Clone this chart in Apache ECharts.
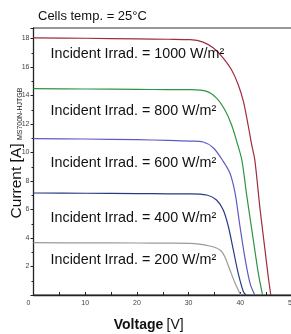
<!DOCTYPE html>
<html lang="en">
<head>
    <meta charset="UTF-8">
    <title>I-V curves</title>
    <script src="https://cdn.jsdelivr.net/npm/echarts@6/dist/echarts.min.js"></script>
    <style>
        html, body { margin: 0; padding: 0; background: #fff; }
    </style>
</head>
<body>
<div id="main" style="width: 291px; height: 334px"></div>
<script>
    // irradiance levels (W/m²) and their I-V curves, [voltage V, current A]
    let irradiance = [1000, 800, 600, 400, 200];
    let curve1000 = [[0, 18.05], [10, 18.02], [20, 17.98], [26, 17.95], [30.3, 17.92], [32.8, 17.75],
        [34.8, 17.33], [36.7, 16.63], [38.3, 15.81], [39.6, 14.76], [40.6, 13.59], [41.5, 11.95],
        [42.2, 10.55], [42.8, 9.5], [43.8, 6.1], [44.8, 3.1], [45.4, 1.3], [45.9, 0]];
    let curve800 = [[0, 14.48], [10, 14.46], [20, 14.43], [26, 14.42], [30.3, 14.41], [33.5, 14.29],
        [35.4, 13.82], [37.0, 13.0], [38.3, 11.95], [39.3, 10.79], [40.3, 9.47], [41.2, 7.1],
        [42.5, 3.9], [43.5, 1.5], [44.3, 0]];
    let curve600 = [[0, 10.97], [10, 10.95], [20, 10.9], [26, 10.85], [30.3, 10.8], [32.8, 10.74],
        [34.8, 10.32], [36.7, 9.38], [38.0, 8.54], [39.0, 7.14], [39.9, 4.9], [40.9, 2.6],
        [41.9, 0.8], [42.8, 0]];
    let curve400 = [[0, 7.16], [10, 7.14], [20, 7.12], [26, 7.1], [30.3, 7.1], [33.5, 7.02],
        [35.4, 6.67], [36.7, 5.96], [37.7, 4.79], [38.65, 3.16], [39.6, 1.52], [40.6, 0.23], [41.1, 0]];
    let curve200 = [[0, 3.67], [10, 3.66], [20, 3.65], [26, 3.64], [30.3, 3.63], [34.1, 3.44],
        [36.1, 3.16], [37.0, 2.69], [38.0, 1.75], [39.0, 0.82], [39.9, 0.12], [40.1, 0]];
    let curves = [curve1000, curve800, curve600, curve400, curve200];
    let colors = ['#a02c3c', '#2f9446', '#5f5cc0', '#263a85', '#9a9a9a'];

    // where the irradiance captions sit, in axis units
    let captionV = 3.3;
    let captionI = [16.88, 12.93, 9.23, 5.43, 2.42];

    let font = 'Liberation Sans, Arial, sans-serif';
    let myChart = echarts.init(document.getElementById('main'));

    let series = curves.map(function (c, i) {
        return {
            type: 'line',
            data: c,
            smooth: 0.3,
            showSymbol: false,
            lineStyle: {color: colors[i], width: 1.2},
            itemStyle: {color: colors[i]},
            markPoint: {
                symbolSize: 0,
                data: [{coord: [captionV, captionI[i]]}],
                label: {
                    show: true,
                    position: 'right',
                    distance: 0,
                    formatter: 'Incident Irrad. = ' + irradiance[i] + ' W/m²',
                    color: '#111',
                    fontSize: 14.3,
                    fontFamily: font
                }
            }
        };
    });

    let option = {
        animation: false,
        backgroundColor: '#fff',
        title: {
            text: 'Cells temp. = 25°C',
            left: 38,
            top: 9.5,
            padding: 0,
            textStyle: {fontSize: 13, fontWeight: 'normal', color: '#111', fontFamily: font}
        },
        grid: {
            left: 33.5, right: -1, top: 28, bottom: 39,
            outerBoundsMode: 'none',
            containLabel: false,
            show: true, borderColor: '#333', borderWidth: 1
        },
        xAxis: {
            type: 'value',
            min: 0, max: 50, interval: 10,
            name: '{b|Voltage} {n|[V]}',
            nameLocation: 'middle',
            nameGap: 23,
            nameMoveOverlap: false,
            nameTextStyle: {
                padding: [0, 28, 0, 0],
                rich: {
                    b: {fontSize: 14, fontWeight: 'bold', color: '#111', fontFamily: font},
                    n: {fontSize: 14, color: '#111', fontFamily: font}
                }
            },
            axisLine: {lineStyle: {color: '#222', width: 1.3}},
            axisTick: {inside: true, length: 3, lineStyle: {color: '#222'}},
            minorTick: {show: true, splitNumber: 2, length: 3, lineStyle: {color: '#222'}},
            splitLine: {show: false},
            axisLabel: {
                fontSize: 7, color: '#444', margin: 5, fontFamily: font,
                formatter: function (v) { return v === 0 ? '{z|0}' : String(v); },
                rich: {z: {fontSize: 7, color: '#444', padding: [0, 10, 0, 0], fontFamily: font}}
            }
        },
        yAxis: {
            type: 'value',
            min: 0, max: 18.74, interval: 2,
            name: '{a|Current [A]} {s|MS700N-HJTGB}',
            nameLocation: 'middle',
            nameRotate: 90,
            nameGap: 9,
            nameMoveOverlap: false,
            nameTextStyle: {
                padding: [0, 0, 0, 17],
                rich: {
                    a: {fontSize: 15.5, color: '#111', fontFamily: font, verticalAlign: 'bottom'},
                    s: {fontSize: 7, color: '#222', fontFamily: font, verticalAlign: 'bottom', padding: [0, 0, 1, 0]}
                }
            },
            axisLine: {lineStyle: {color: '#222', width: 1.3}},
            axisTick: {inside: false, length: 3, lineStyle: {color: '#222'}},
            minorTick: {show: true, splitNumber: 2, length: 2, lineStyle: {color: '#222'}},
            splitLine: {show: false},
            axisLabel: {
                fontSize: 7, color: '#444', margin: 4, fontFamily: font,
                showMinLabel: false, showMaxLabel: false
            }
        },
        series: series
    };
    myChart.setOption(option);
</script>
</body>
</html>
